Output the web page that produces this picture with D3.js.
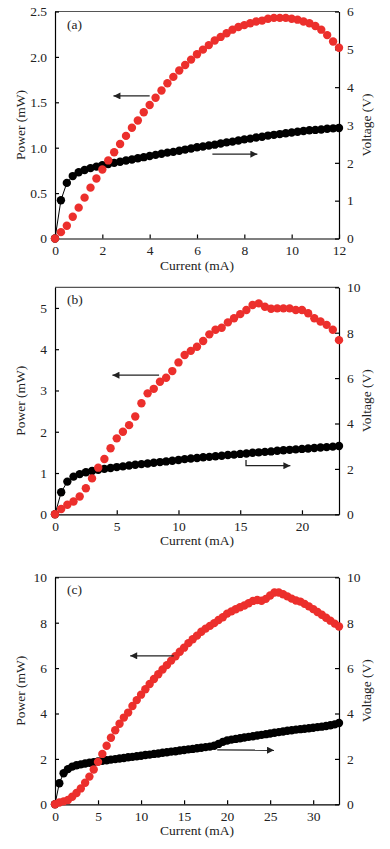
<!DOCTYPE html>
<html>
<head>
<meta charset="utf-8">
<script src="https://cdn.jsdelivr.net/npm/d3@7/dist/d3.min.js"></script>
<style>
	body { margin: 0; background: #fff; }
	svg text { font-family: "Liberation Serif", "Times New Roman", Times, serif; font-size: 13.5px; fill: #222; }
	.axis path, .axis line { stroke: #000; stroke-width: 1.2; }
</style>
</head>
<body>
<svg id="chart" width="390" height="849"></svg>
<script>
// panel (a)
var currentA = [0, 0.25, 0.5, 0.75, 1, 1.25, 1.5, 1.75, 2, 2.25, 2.5, 2.75, 3, 3.25, 3.5, 3.75, 4, 4.25, 4.5, 4.75, 5, 5.25, 5.5, 5.75, 6, 6.25, 6.5, 6.75, 7, 7.25, 7.5, 7.75, 8, 8.25, 8.5, 8.75, 9, 9.25, 9.5, 9.75, 10, 10.25, 10.5, 10.75, 11, 11.25, 11.5, 11.75, 12];
var powerA = [0, 0.07, 0.14, 0.24, 0.34, 0.45, 0.56, 0.66, 0.76, 0.86, 0.95, 1.04, 1.13, 1.22, 1.30, 1.39, 1.47, 1.55, 1.63, 1.71, 1.78, 1.85, 1.91, 1.97, 2.03, 2.08, 2.13, 2.18, 2.22, 2.26, 2.30, 2.33, 2.35, 2.37, 2.39, 2.40, 2.42, 2.43, 2.43, 2.43, 2.42, 2.41, 2.39, 2.37, 2.34, 2.30, 2.24, 2.17, 2.10];
var voltageA = [0, 1.01, 1.47, 1.65, 1.75, 1.81, 1.86, 1.90, 1.94, 1.97, 2.00, 2.03, 2.06, 2.09, 2.12, 2.15, 2.18, 2.21, 2.24, 2.27, 2.29, 2.32, 2.35, 2.38, 2.41, 2.43, 2.46, 2.48, 2.51, 2.54, 2.56, 2.59, 2.62, 2.64, 2.67, 2.69, 2.72, 2.74, 2.76, 2.78, 2.80, 2.82, 2.84, 2.86, 2.87, 2.88, 2.90, 2.91, 2.92];
var xTicksA = [0, 2, 4, 6, 8, 10, 12];
var powerTicksA = [0, 0.5, 1.0, 1.5, 2.0, 2.5];
var voltTicksA = [0, 1, 2, 3, 4, 5, 6];

// panel (b)
var currentB = [0, 0.5, 1, 1.5, 2, 2.5, 3, 3.5, 4, 4.5, 5, 5.5, 6, 6.5, 7, 7.5, 8, 8.5, 9, 9.5, 10, 10.5, 11, 11.5, 12, 12.5, 13, 13.5, 14, 14.5, 15, 15.5, 16, 16.5, 17, 17.5, 18, 18.5, 19, 19.5, 20, 20.5, 21, 21.5, 22, 22.5, 23];
var powerB = [0, 0.13, 0.23, 0.31, 0.43, 0.63, 0.87, 1.13, 1.34, 1.60, 1.84, 2.00, 2.16, 2.37, 2.69, 2.93, 3.04, 3.21, 3.31, 3.47, 3.68, 3.86, 3.96, 4.06, 4.20, 4.36, 4.47, 4.52, 4.65, 4.75, 4.85, 4.95, 5.07, 5.11, 5.03, 4.98, 4.99, 4.99, 4.99, 4.95, 4.95, 4.87, 4.75, 4.67, 4.59, 4.47, 4.22];
var voltageB = [0, 0.97, 1.44, 1.66, 1.77, 1.85, 1.91, 1.96, 2.00, 2.04, 2.08, 2.11, 2.15, 2.18, 2.21, 2.24, 2.27, 2.30, 2.33, 2.36, 2.39, 2.43, 2.46, 2.48, 2.51, 2.53, 2.56, 2.58, 2.61, 2.63, 2.66, 2.68, 2.71, 2.73, 2.75, 2.77, 2.80, 2.82, 2.84, 2.86, 2.88, 2.90, 2.92, 2.94, 2.96, 2.98, 3.01];
var xTicksB = [0, 5, 10, 15, 20];
var powerTicksB = [0, 1, 2, 3, 4, 5];
var voltTicksB = [0, 2, 4, 6, 8, 10];

// panel (c)
var currentC = [0, 0.5, 1, 1.5, 2, 2.5, 3, 3.5, 4, 4.5, 5, 5.5, 6, 6.5, 7, 7.5, 8, 8.5, 9, 9.5, 10, 10.5, 11, 11.5, 12, 12.5, 13, 13.5, 14, 14.5, 15, 15.5, 16, 16.5, 17, 17.5, 18, 18.5, 19, 19.5, 20, 20.5, 21, 21.5, 22, 22.5, 23, 23.5, 24, 24.5, 25, 25.5, 26, 26.5, 27, 27.5, 28, 28.5, 29, 29.5, 30, 30.5, 31, 31.5, 32, 32.5, 33];
var powerC = [0, 0.08, 0.13, 0.19, 0.33, 0.50, 0.70, 0.95, 1.22, 1.53, 1.87, 2.22, 2.58, 2.93, 3.26, 3.55, 3.82, 4.04, 4.33, 4.59, 4.83, 5.07, 5.30, 5.52, 5.73, 5.94, 6.13, 6.33, 6.52, 6.72, 6.90, 7.10, 7.27, 7.43, 7.60, 7.74, 7.86, 7.98, 8.12, 8.24, 8.40, 8.50, 8.59, 8.68, 8.76, 8.86, 8.96, 9.00, 8.97, 9.05, 9.20, 9.33, 9.33, 9.25, 9.16, 9.06, 8.98, 8.93, 8.83, 8.72, 8.60, 8.47, 8.35, 8.22, 8.09, 7.96, 7.83];
var voltageC = [0, 0.93, 1.37, 1.55, 1.66, 1.72, 1.76, 1.80, 1.83, 1.86, 1.89, 1.92, 1.94, 1.97, 1.99, 2.02, 2.04, 2.07, 2.09, 2.12, 2.14, 2.17, 2.19, 2.22, 2.24, 2.27, 2.29, 2.32, 2.34, 2.37, 2.39, 2.42, 2.44, 2.47, 2.49, 2.52, 2.54, 2.58, 2.66, 2.75, 2.81, 2.85, 2.88, 2.91, 2.94, 2.97, 3.00, 3.03, 3.06, 3.09, 3.12, 3.15, 3.18, 3.21, 3.24, 3.26, 3.29, 3.31, 3.33, 3.35, 3.37, 3.40, 3.42, 3.45, 3.48, 3.52, 3.58];
var xTicksC = [0, 5, 10, 15, 20, 25, 30];
var powerTicksC = [0, 2, 4, 6, 8, 10];
var voltTicksC = [0, 2, 4, 6, 8, 10];

var svg = d3.select('#chart');

svg.append('defs').append('marker')
	.attr('id', 'arrow')
	.attr('viewBox', '0 0 10 10')
	.attr('refX', 10)
	.attr('refY', 5)
	.attr('markerWidth', 9)
	.attr('markerHeight', 7)
	.attr('markerUnits', 'userSpaceOnUse')
	.attr('orient', 'auto')
	.append('path')
	.attr('d', 'M0,0L10,5L0,10z')
	.attr('fill', '#222');

drawPanel({
	top: 11.5, label: '(a)',
	current: currentA, power: powerA, voltage: voltageA,
	xMax: 12, pMax: 2.5, vMax: 6,
	xTicks: xTicksA, pTicks: powerTicksA, vTicks: voltTicksA,
	pFormat: function(d) { return d === 0 ? '0' : d3.format('.1f')(d); },
	leftArrow: [[4.0, 1.57], [2.47, 1.57]],
	rightArrow: [[6.65, 2.23], [8.55, 2.23]]
});

drawPanel({
	top: 287.3, label: '(b)',
	current: currentB, power: powerB, voltage: voltageB,
	xMax: 23, pMax: 5.5, vMax: 10,
	xTicks: xTicksB, pTicks: powerTicksB, vTicks: voltTicksB,
	pFormat: d3.format('d'),
	leftArrow: [[8.43, 3.37], [4.65, 3.37]],
	rightArrow: [[15.47, 2.39], [15.47, 2.14], [19.06, 2.14]]
});

drawPanel({
	top: 577.3, label: '(c)',
	current: currentC, power: powerC, voltage: voltageC,
	xMax: 33, pMax: 10, vMax: 10,
	xTicks: xTicksC, pTicks: powerTicksC, vTicks: voltTicksC,
	pFormat: d3.format('d'),
	leftArrow: [[13.8, 6.54], [8.74, 6.54]],
	rightArrow: [[18.85, 2.4], [25.45, 2.38]]
});

function drawPanel(p) {
	var left = 55, right = 339, height = 227,
		width = right - left,
		g = svg.append('g').attr('transform', 'translate(' + left + ',' + p.top + ')');

	var x = d3.scaleLinear().domain([0, p.xMax]).range([0, width]),
		yP = d3.scaleLinear().domain([0, p.pMax]).range([height, 0]),
		yV = d3.scaleLinear().domain([0, p.vMax]).range([height, 0]);

	// top border
	g.append('line')
		.attr('x1', 0).attr('x2', width)
		.attr('y1', 0).attr('y2', 0)
		.attr('stroke', '#555')
		.attr('stroke-width', 1.2);

	g.append('g')
		.attr('class', 'axis')
		.attr('transform', 'translate(0,' + height + ')')
		.call(d3.axisBottom(x).tickValues(p.xTicks).tickSize(-4).tickSizeOuter(0).tickPadding(7).tickFormat(d3.format('d')));

	g.append('g')
		.attr('class', 'axis')
		.call(d3.axisLeft(yP).tickValues(p.pTicks).tickSize(-4).tickSizeOuter(0).tickPadding(8).tickFormat(p.pFormat));

	g.append('g')
		.attr('class', 'axis')
		.attr('transform', 'translate(' + width + ',0)')
		.call(d3.axisRight(yV).tickValues(p.vTicks).tickSize(-4).tickSizeOuter(0).tickPadding(8).tickFormat(d3.format('d')));

	g.selectAll('.axis text').style('font-size', '13.5px').attr('fill', '#222');

	// axis titles
	g.append('text')
		.attr('x', width / 2)
		.attr('y', height + 31)
		.attr('text-anchor', 'middle')
		.text('Current (mA)');

	g.append('text')
		.attr('transform', 'translate(' + (25 - left) + ',' + (height / 2) + ') rotate(-90)')
		.attr('text-anchor', 'middle')
		.text('Power (mW)');

	g.append('text')
		.attr('transform', 'translate(' + (371 - left) + ',' + (height / 2) + ') rotate(-90)')
		.attr('text-anchor', 'middle')
		.text('Voltage (V)');

	g.append('text')
		.attr('x', 12)
		.attr('y', 17)
		.text(p.label);

	// voltage curve (black, line + markers)
	var vData = p.current.map(function(c, i) { return [c, p.voltage[i]]; }),
		pData = p.current.map(function(c, i) { return [c, p.power[i]]; });

	g.append('path')
		.datum(vData)
		.attr('fill', 'none')
		.attr('stroke', '#000')
		.attr('stroke-width', 1)
		.attr('d', d3.line().x(function(d) { return x(d[0]); }).y(function(d) { return yV(d[1]); }));

	g.append('g')
		.selectAll('circle')
		.data(vData)
		.enter().append('circle')
		.attr('cx', function(d) { return x(d[0]); })
		.attr('cy', function(d) { return yV(d[1]); })
		.attr('r', 4.2)
		.attr('fill', '#000');

	// power curve (red markers)
	g.append('g')
		.selectAll('circle')
		.data(pData)
		.enter().append('circle')
		.attr('cx', function(d) { return x(d[0]); })
		.attr('cy', function(d) { return yP(d[1]); })
		.attr('r', 4.2)
		.attr('fill', '#ec2f2c');

	// arrows
	var arrowLine = d3.line();
	g.append('path')
		.attr('d', arrowLine(p.leftArrow.map(function(d) { return [x(d[0]), yP(d[1])]; })))
		.attr('fill', 'none')
		.attr('stroke', '#222')
		.attr('stroke-width', 1.3)
		.attr('marker-end', 'url(#arrow)');

	g.append('path')
		.attr('d', arrowLine(p.rightArrow.map(function(d) { return [x(d[0]), yV(d[1])]; })))
		.attr('fill', 'none')
		.attr('stroke', '#222')
		.attr('stroke-width', 1.3)
		.attr('marker-end', 'url(#arrow)');
}
</script>
</body>
</html>
